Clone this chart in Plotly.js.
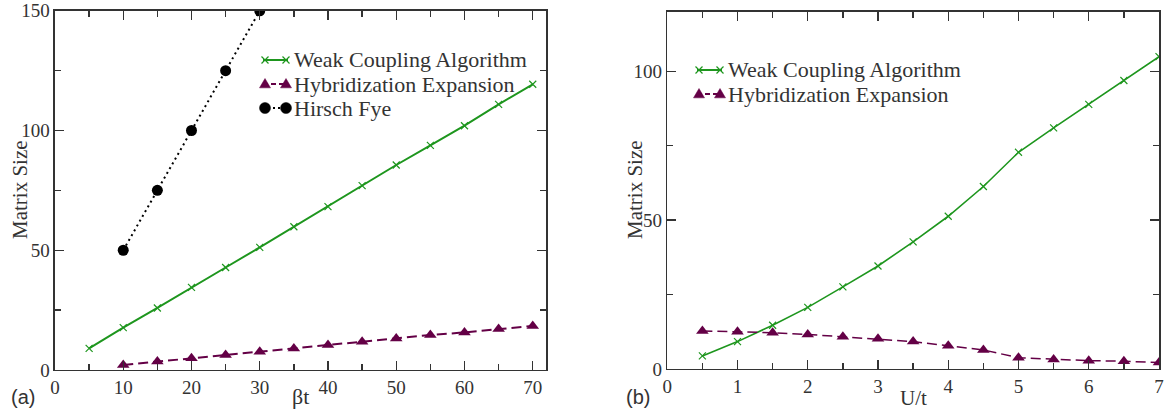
<!DOCTYPE html>
<html><head><meta charset="utf-8">
<script src="https://cdn.plot.ly/plotly-3.0.1.min.js"></script>
<style>html,body{margin:0;padding:0;background:#fff}#chart{width:1170px;height:414px}</style>
</head><body><div id="chart"></div>
<script>
// Panel (a)
const betaT = [5,10,15,20,25,30,35,40,45,50,55,60,65,70];
const weakA = [9.0,17.7,25.9,34.5,42.8,51.2,59.8,68.2,77.0,85.6,93.8,102.0,110.9,119.3];
const betaTHyb = [10,15,20,25,30,35,40,45,50,55,60,65,70];
const hybA = [2.1,3.5,4.9,6.3,7.6,9.0,10.4,11.8,13.2,14.6,15.7,17.1,18.4];
const betaTHF = [10,15,20,25,30];
const hirschFye = [50,75,100,125,150];
// Panel (b)
const Ut = [0.5,1,1.5,2,2.5,3,3.5,4,4.5,5,5.5,6,6.5,7];
const weakB = [4.4,9.2,14.7,20.7,27.6,34.6,42.7,51.3,61.3,72.8,81.0,88.9,96.9,104.9];
const hybB = [12.8,12.5,12.2,11.6,10.8,10.2,9.2,7.8,6.4,3.8,3.2,2.8,2.6,2.2];
// Legend labels
const legendA = ['Weak Coupling Algorithm', 'Hybridization Expansion', 'Hirsch Fye'];
const legendB = ['Weak Coupling Algorithm', 'Hybridization Expansion'];

const W = 1170, H = 414;
const green = 'rgb(30,150,30)';
const maroon = 'rgb(100,0,70)';
const ink = '#333';
const serif = "'Liberation Serif', 'Times New Roman', Times, serif";
const sans = "'Liberation Sans', Arial, sans-serif";

const styles = [
  {line: {color: green, width: 2}, marker: {symbol: 'x-thin', size: 7, color: green, line: {color: green, width: 1.2}}},
  {line: {color: maroon, width: 2, dash: '10px,5px'}, marker: {symbol: 'triangle-up', size: 11, color: maroon}},
  {line: {color: 'black', width: 2, dash: '2px,3.5px'}, marker: {symbol: 'circle', size: 11, color: 'black'}}
];

const traces = [
  Object.assign({x: betaT, y: weakA, name: legendA[0], xaxis: 'x', yaxis: 'y', mode: 'lines+markers'}, styles[0]),
  Object.assign({x: betaTHyb, y: hybA, name: legendA[1], xaxis: 'x', yaxis: 'y', mode: 'lines+markers'}, styles[1]),
  Object.assign({x: betaTHF, y: hirschFye, name: legendA[2], xaxis: 'x', yaxis: 'y', mode: 'lines+markers'}, styles[2]),
  {x: Ut, y: weakB, name: legendB[0], xaxis: 'x2', yaxis: 'y2', mode: 'lines+markers',
   line: {color: green, width: 1.6}, marker: styles[0].marker},
  {x: Ut, y: hybB, name: legendB[1], xaxis: 'x2', yaxis: 'y2', mode: 'lines+markers',
   line: {color: maroon, width: 1.5, dash: '10px,5px'}, marker: styles[1].marker}
];

// ---- hand-drawn legends (paper coords from pixel positions) ----
const px = v => v / W, py = v => 1 - v / H;
const shapes = [], annotations = [];
function legendEntry(x0, x1, yc, label, kind) {
  const st = styles[kind];
  shapes.push({type: 'line', xref: 'paper', yref: 'paper', x0: px(x0), x1: px(x1), y0: py(yc), y1: py(yc),
    line: {color: st.line.color, width: st.line.width, dash: st.line.dash ? (kind === 1 ? '5px,3px' : '2px,3px') : 'solid'}});
  [x0 + 2, x1 - 2].forEach(cx => {
    if (kind === 0) {
      const r = 3.5;
      shapes.push({type: 'path', xref: 'paper', yref: 'paper', line: {color: green, width: 1.2},
        path: `M${px(cx - r)},${py(yc - r)} L${px(cx + r)},${py(yc + r)} M${px(cx - r)},${py(yc + r)} L${px(cx + r)},${py(yc - r)}`});
    } else if (kind === 1) {
      const r = 5.5;
      shapes.push({type: 'path', xref: 'paper', yref: 'paper', fillcolor: maroon, line: {color: maroon, width: 0.5},
        path: `M${px(cx)},${py(yc - r)} L${px(cx + r)},${py(yc + r * 0.7)} L${px(cx - r)},${py(yc + r * 0.7)} Z`});
    } else {
      const r = 5.5;
      shapes.push({type: 'circle', xref: 'paper', yref: 'paper', fillcolor: 'black', line: {color: 'black', width: 0.5},
        x0: px(cx - r), x1: px(cx + r), y0: py(yc - r), y1: py(yc + r)});
    }
  });
  annotations.push({text: label, xref: 'paper', yref: 'paper', x: px(x1 + 4), y: py(yc), xanchor: 'left', yanchor: 'middle',
    showarrow: false, font: {family: serif, size: 22, color: ink}});
}
legendEntry(263, 288, 60, legendA[0], 0);
legendEntry(263, 288, 84, legendA[1], 1);
legendEntry(263, 288, 108, legendA[2], 2);
legendEntry(697, 722, 70, legendB[0], 0);
legendEntry(697, 722, 94, legendB[1], 1);

// axis titles and panel labels
annotations.push(
  {text: 'Matrix Size', xref: 'paper', yref: 'paper', x: px(20), y: py(190), textangle: -90, showarrow: false,
   xanchor: 'center', yanchor: 'middle', font: {family: serif, size: 21, color: ink}},
  {text: 'Matrix Size', xref: 'paper', yref: 'paper', x: px(635), y: py(190), textangle: -90, showarrow: false,
   xanchor: 'center', yanchor: 'middle', font: {family: serif, size: 21, color: ink}},
  {text: 'βt', xref: 'paper', yref: 'paper', x: px(300), y: py(396), showarrow: false,
   xanchor: 'center', yanchor: 'middle', font: {family: serif, size: 22, color: ink}},
  {text: 'U/t', xref: 'paper', yref: 'paper', x: px(913), y: py(398), showarrow: false,
   xanchor: 'center', yanchor: 'middle', font: {family: serif, size: 21, color: ink}},
  {text: '(a)', xref: 'paper', yref: 'paper', x: px(9), y: py(397), xanchor: 'left', yanchor: 'middle', showarrow: false,
   font: {family: sans, size: 20, color: ink}},
  {text: '(b)', xref: 'paper', yref: 'paper', x: px(624), y: py(397), xanchor: 'left', yanchor: 'middle', showarrow: false,
   font: {family: sans, size: 20, color: ink}}
);

const axLine = {showline: true, linecolor: ink, linewidth: 1.5, mirror: 'allticks', ticks: 'inside',
  ticklen: 9, tickwidth: 1.3, tickcolor: ink, showgrid: false, zeroline: false, automargin: false,
  tickfont: {family: serif, size: 19, color: ink}};

const layout = {
  width: W, height: H, margin: {l: 0, r: 0, t: 0, b: 0},
  paper_bgcolor: 'white', plot_bgcolor: 'white', showlegend: false,
  font: {family: serif},
  xaxis: Object.assign({}, axLine, {domain: [0.047, 0.467], range: [0, 72], dtick: 10, tick0: 0, anchor: 'y',
    minor: {dtick: 5, ticks: 'inside', ticklen: 6, tickcolor: ink}}),
  yaxis: Object.assign({}, axLine, {domain: [0.1063, 0.974], range: [0, 150], dtick: 50, anchor: 'x',
    minor: {dtick: 25, ticks: 'inside', ticklen: 6, tickcolor: ink}}),
  xaxis2: Object.assign({}, axLine, {domain: [0.5703, 0.9906], range: [0, 7], dtick: 1, anchor: 'y2',
    minor: {dtick: 0.5, ticks: 'inside', ticklen: 6, tickcolor: ink}}),
  yaxis2: Object.assign({}, axLine, {domain: [0.1087, 0.9717], range: [0, 120], dtick: 50, anchor: 'x2',
    minor: {dtick: 25, ticks: 'inside', ticklen: 6, tickcolor: ink}}),
  shapes: shapes,
  annotations: annotations
};

Plotly.newPlot('chart', traces, layout, {displayModeBar: false, staticPlot: true});
</script></body></html>
